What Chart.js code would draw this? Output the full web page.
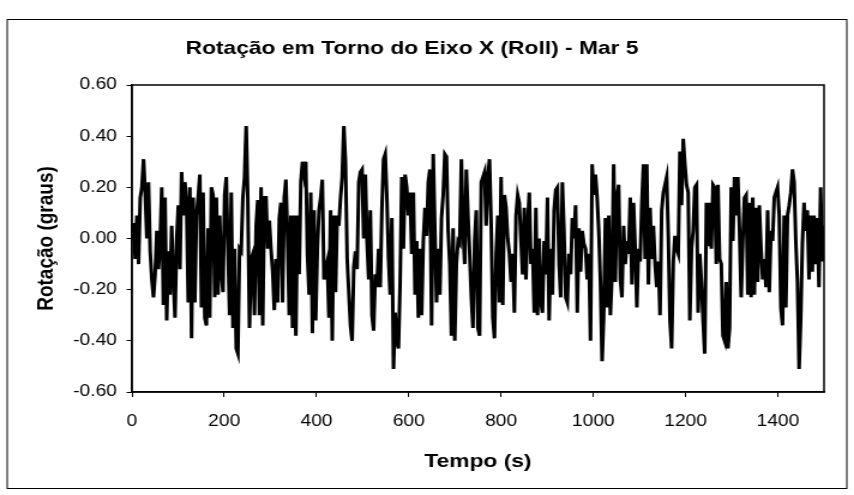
<!DOCTYPE html>
<html>
<head>
<meta charset="utf-8">
<script src="https://cdn.jsdelivr.net/npm/chart.js@4.4.0/dist/chart.umd.min.js"></script>
<style>
    html, body { margin: 0; padding: 0; background: #fff; }
    #wrap { width: 854px; height: 495px; overflow: hidden; }
    /* the original picture has its lettering stretched sideways, so the
       canvas is drawn 712px wide and scaled out to 854px */
    #rollChart { display: block; transform: scaleX(1.19944); transform-origin: 0 0; }
</style>
</head>
<body>
<div id="wrap"><canvas id="rollChart" width="712" height="495"></canvas></div>
<script>
// roll angle (graus), one sample every sampleStep seconds
const sampleStep = 3.588;

const roll0to500 = [
    0.00, 0.06, -0.08, 0.09, -0.10, 0.16, 0.20, 0.31, 0.18, 0.00,
    0.22, -0.05, -0.16, -0.23, -0.14, 0.03, -0.12, -0.02, 0.20, -0.26,
    0.16, -0.32, -0.05, -0.22, 0.05, -0.15, -0.31, -0.01, 0.13, -0.12,
    0.26, 0.09, 0.22, 0.14, -0.25, 0.20, -0.39, 0.16, -0.25, 0.09,
    0.16, 0.25, -0.27, 0.18, -0.31, -0.34, 0.04, -0.31, 0.20, 0.17,
    -0.23, 0.16, -0.22, 0.09, -0.13, -0.21, 0.17, 0.24, -0.05, -0.30,
    0.18, -0.35, -0.04, -0.43, -0.45, -0.04, -0.05, 0.16, 0.24, 0.44,
    0.15, -0.35, -0.08, -0.06, -0.30, 0.05, 0.15, -0.30, 0.20, -0.34,
    0.16, 0.16, -0.04, 0.07, -0.04, -0.13, -0.28, -0.08, -0.25, 0.08,
    0.14, -0.25, 0.16, 0.23, 0.00, -0.30, 0.09, -0.35, 0.09, -0.38,
    0.09, -0.14, 0.22, 0.30, 0.25, 0.30, -0.06, -0.22, 0.18, -0.37,
    0.11, -0.32, -0.04, 0.11, 0.16, 0.23, -0.16, -0.12, -0.09, -0.31,
    0.11, -0.40, 0.09, -0.21, 0.09, 0.05, 0.16, 0.24, 0.44, 0.30,
    -0.08, -0.21, -0.34, -0.40, -0.11, -0.05, -0.12, 0.22, 0.26, 0.27,
    0.00
];

const roll500to1000 = [
    0.25, -0.01, -0.16, 0.11, -0.30, -0.36, -0.14, -0.19, -0.04, -0.19,
    0.12, 0.31, 0.33, 0.16, -0.08, -0.22, 0.08, -0.51, -0.29, -0.40,
    -0.43, -0.17, 0.24, -0.04, 0.25, 0.20, 0.09, 0.18, -0.06, 0.18,
    -0.22, -0.01, -0.31, -0.04, -0.30, -0.01, 0.12, 0.01, 0.22, 0.27,
    -0.34, 0.33, 0.03, -0.25, -0.04, -0.22, 0.08, 0.17, 0.33, 0.32,
    0.03, -0.10, -0.38, 0.04, -0.40, -0.10, -0.01, -0.02, 0.31, 0.03,
    -0.10, 0.27, 0.09, -0.06, -0.23, -0.35, -0.01, 0.11, -0.35, -0.38,
    0.22, 0.24, 0.26, 0.05, 0.24, 0.31, 0.05, -0.31, -0.39, -0.06,
    0.09, -0.25, 0.24, -0.26, 0.17, 0.12, 0.00, -0.06, -0.17, -0.06,
    -0.29, 0.09, 0.17, 0.14, -0.01, -0.14, 0.12, -0.16, 0.05, 0.18,
    -0.10, -0.04, -0.29, 0.12, -0.30, 0.00, -0.25, -0.29, -0.01, -0.14,
    0.16, -0.32, -0.04, -0.22, 0.11, 0.19, 0.20, -0.10, -0.23, 0.22,
    0.03, -0.23, -0.25, -0.06, -0.14, 0.08, 0.00, 0.13, -0.29, 0.04,
    -0.13, 0.03, -0.02, -0.04, -0.16, -0.06, -0.40, 0.29, 0.17, 0.25
];

const roll1000to1500 = [
    0.16, 0.03, -0.17, -0.48, -0.30, 0.08, -0.27, 0.09, -0.30, -0.14,
    0.29, -0.17, 0.16, 0.21, -0.16, -0.23,
    0.05, -0.10, -0.01, -0.06, 0.16, -0.18, 0.14, -0.04, -0.27, -0.04,
    -0.09, 0.14, 0.29, -0.08, 0.29, -0.18, 0.12, -0.08, 0.05, -0.10,
    -0.19, -0.09, -0.30, 0.11, 0.18, 0.21, 0.24, 0.01, -0.32, -0.43,
    -0.09, 0.01, -0.04, -0.06, 0.34, 0.13, 0.39, 0.29, 0.21, 0.18,
    -0.32, -0.04, 0.03, 0.20,
    0.21, -0.29, -0.06, -0.17, -0.32, -0.45, 0.14, -0.03, 0.14, -0.04,
    0.21, 0.20, -0.10, 0.21, -0.08, -0.10, -0.38, -0.40, -0.17, -0.43,
    -0.35, 0.20, -0.01, 0.24, 0.09, 0.24, 0.03, -0.23, -0.01, 0.16,
    0.17, -0.22, 0.14, -0.23, 0.16, -0.22, 0.12, -0.17, 0.13, -0.04,
    -0.16, -0.08, -0.19, 0.11, -0.21, 0.03, -0.01, 0.16, 0.18, 0.20,
    0.09, -0.27, -0.34, 0.09, -0.27, 0.09, 0.13, 0.18, 0.27, 0.22,
    -0.01, -0.17, -0.51, -0.31, -0.02, 0.14, 0.03, 0.11, -0.16, 0.09,
    -0.13, 0.09, -0.10, 0.08, -0.19, 0.20, -0.09, 0.05
];

const xTicks = [0, 200, 400, 600, 800, 1000, 1200, 1400];
const yTicks = [-0.6, -0.4, -0.2, 0, 0.2, 0.4, 0.6];

const rollValues = roll0to500.concat(roll500to1000, roll1000to1500);
const points = rollValues.map((v, i) => ({x: i * sampleStep, y: v}));

const FONT = "'Liberation Sans', Arial, sans-serif";

const framePlugin = {
    id: 'frames',
    beforeDraw(chart) {
        const ctx = chart.ctx;
        ctx.save();
        ctx.fillStyle = '#fff';
        ctx.fillRect(0, 0, chart.width, chart.height);
        ctx.restore();
    },
    afterDraw(chart) {
        const ctx = chart.ctx;
        const a = chart.chartArea;
        ctx.save();
        ctx.strokeStyle = '#000';
        ctx.lineWidth = 1.5;
        ctx.strokeRect(a.left, a.top, a.right - a.left, a.bottom - a.top);
        // outer chart frame
        ctx.lineWidth = 1;
        ctx.strokeRect(6, 19.5, 700, 469);
        ctx.restore();
    }
};

const ctx = document.getElementById('rollChart');
new Chart(ctx, {
    type: 'line',
    data: {
        datasets: [
            {
                label: 'Roll',
                data: points,
                borderColor: '#000',
                borderWidth: 3,
                pointRadius: 0,
                tension: 0,
                fill: false
            }
        ]
    },
    options: {
        responsive: false,
        animation: false,
        devicePixelRatio: 1,
        layout: {
            padding: {left: 0, right: 25, top: 0, bottom: 0}
        },
        plugins: {
            legend: {display: false},
            tooltip: {enabled: false},
            title: {
                display: true,
                text: 'Rotação em Torno do Eixo X (Roll) - Mar 5',
                color: '#000',
                font: {family: FONT, size: 19, weight: 'bold'},
                padding: {top: 37.6, bottom: 24.6}
            }
        },
        scales: {
            x: {
                type: 'linear',
                min: 0,
                max: 1500,
                afterBuildTicks: (scale) => {
                    scale.ticks = xTicks.map(v => ({value: v}));
                },
                afterFit: (scale) => {
                    scale.height = 103;
                },
                ticks: {
                    color: '#000',
                    font: {family: FONT, size: 16},
                    padding: 15,
                    maxRotation: 0,
                    autoSkip: false,
                    callback: (v) => String(v)
                },
                grid: {
                    drawOnChartArea: false,
                    drawTicks: true,
                    tickLength: 5,
                    color: '#000'
                },
                border: {display: true, color: '#000', width: 1.5},
                title: {
                    display: true,
                    text: 'Tempo (s)',
                    color: '#000',
                    font: {family: FONT, size: 19, weight: 'bold'},
                    padding: {top: 0, bottom: 21.6}
                }
            },
            y: {
                min: -0.6,
                max: 0.6,
                afterBuildTicks: (scale) => {
                    scale.ticks = yTicks.map(v => ({value: v}));
                },
                afterFit: (scale) => {
                    scale.width = 110;
                },
                ticks: {
                    color: '#000',
                    font: {family: FONT, size: 16},
                    padding: 8,
                    autoSkip: false,
                    callback: (v) => Number(v).toFixed(2)
                },
                grid: {
                    drawOnChartArea: false,
                    drawTicks: true,
                    tickLength: 4.5,
                    color: '#000'
                },
                border: {display: true, color: '#000', width: 1.5},
                title: {
                    display: true,
                    text: 'Rotação (graus)',
                    color: '#000',
                    font: {family: FONT, size: 19, weight: 'bold'},
                    padding: {top: 27.3, bottom: 0}
                }
            }
        }
    },
    plugins: [framePlugin]
});
</script>
</body>
</html>
